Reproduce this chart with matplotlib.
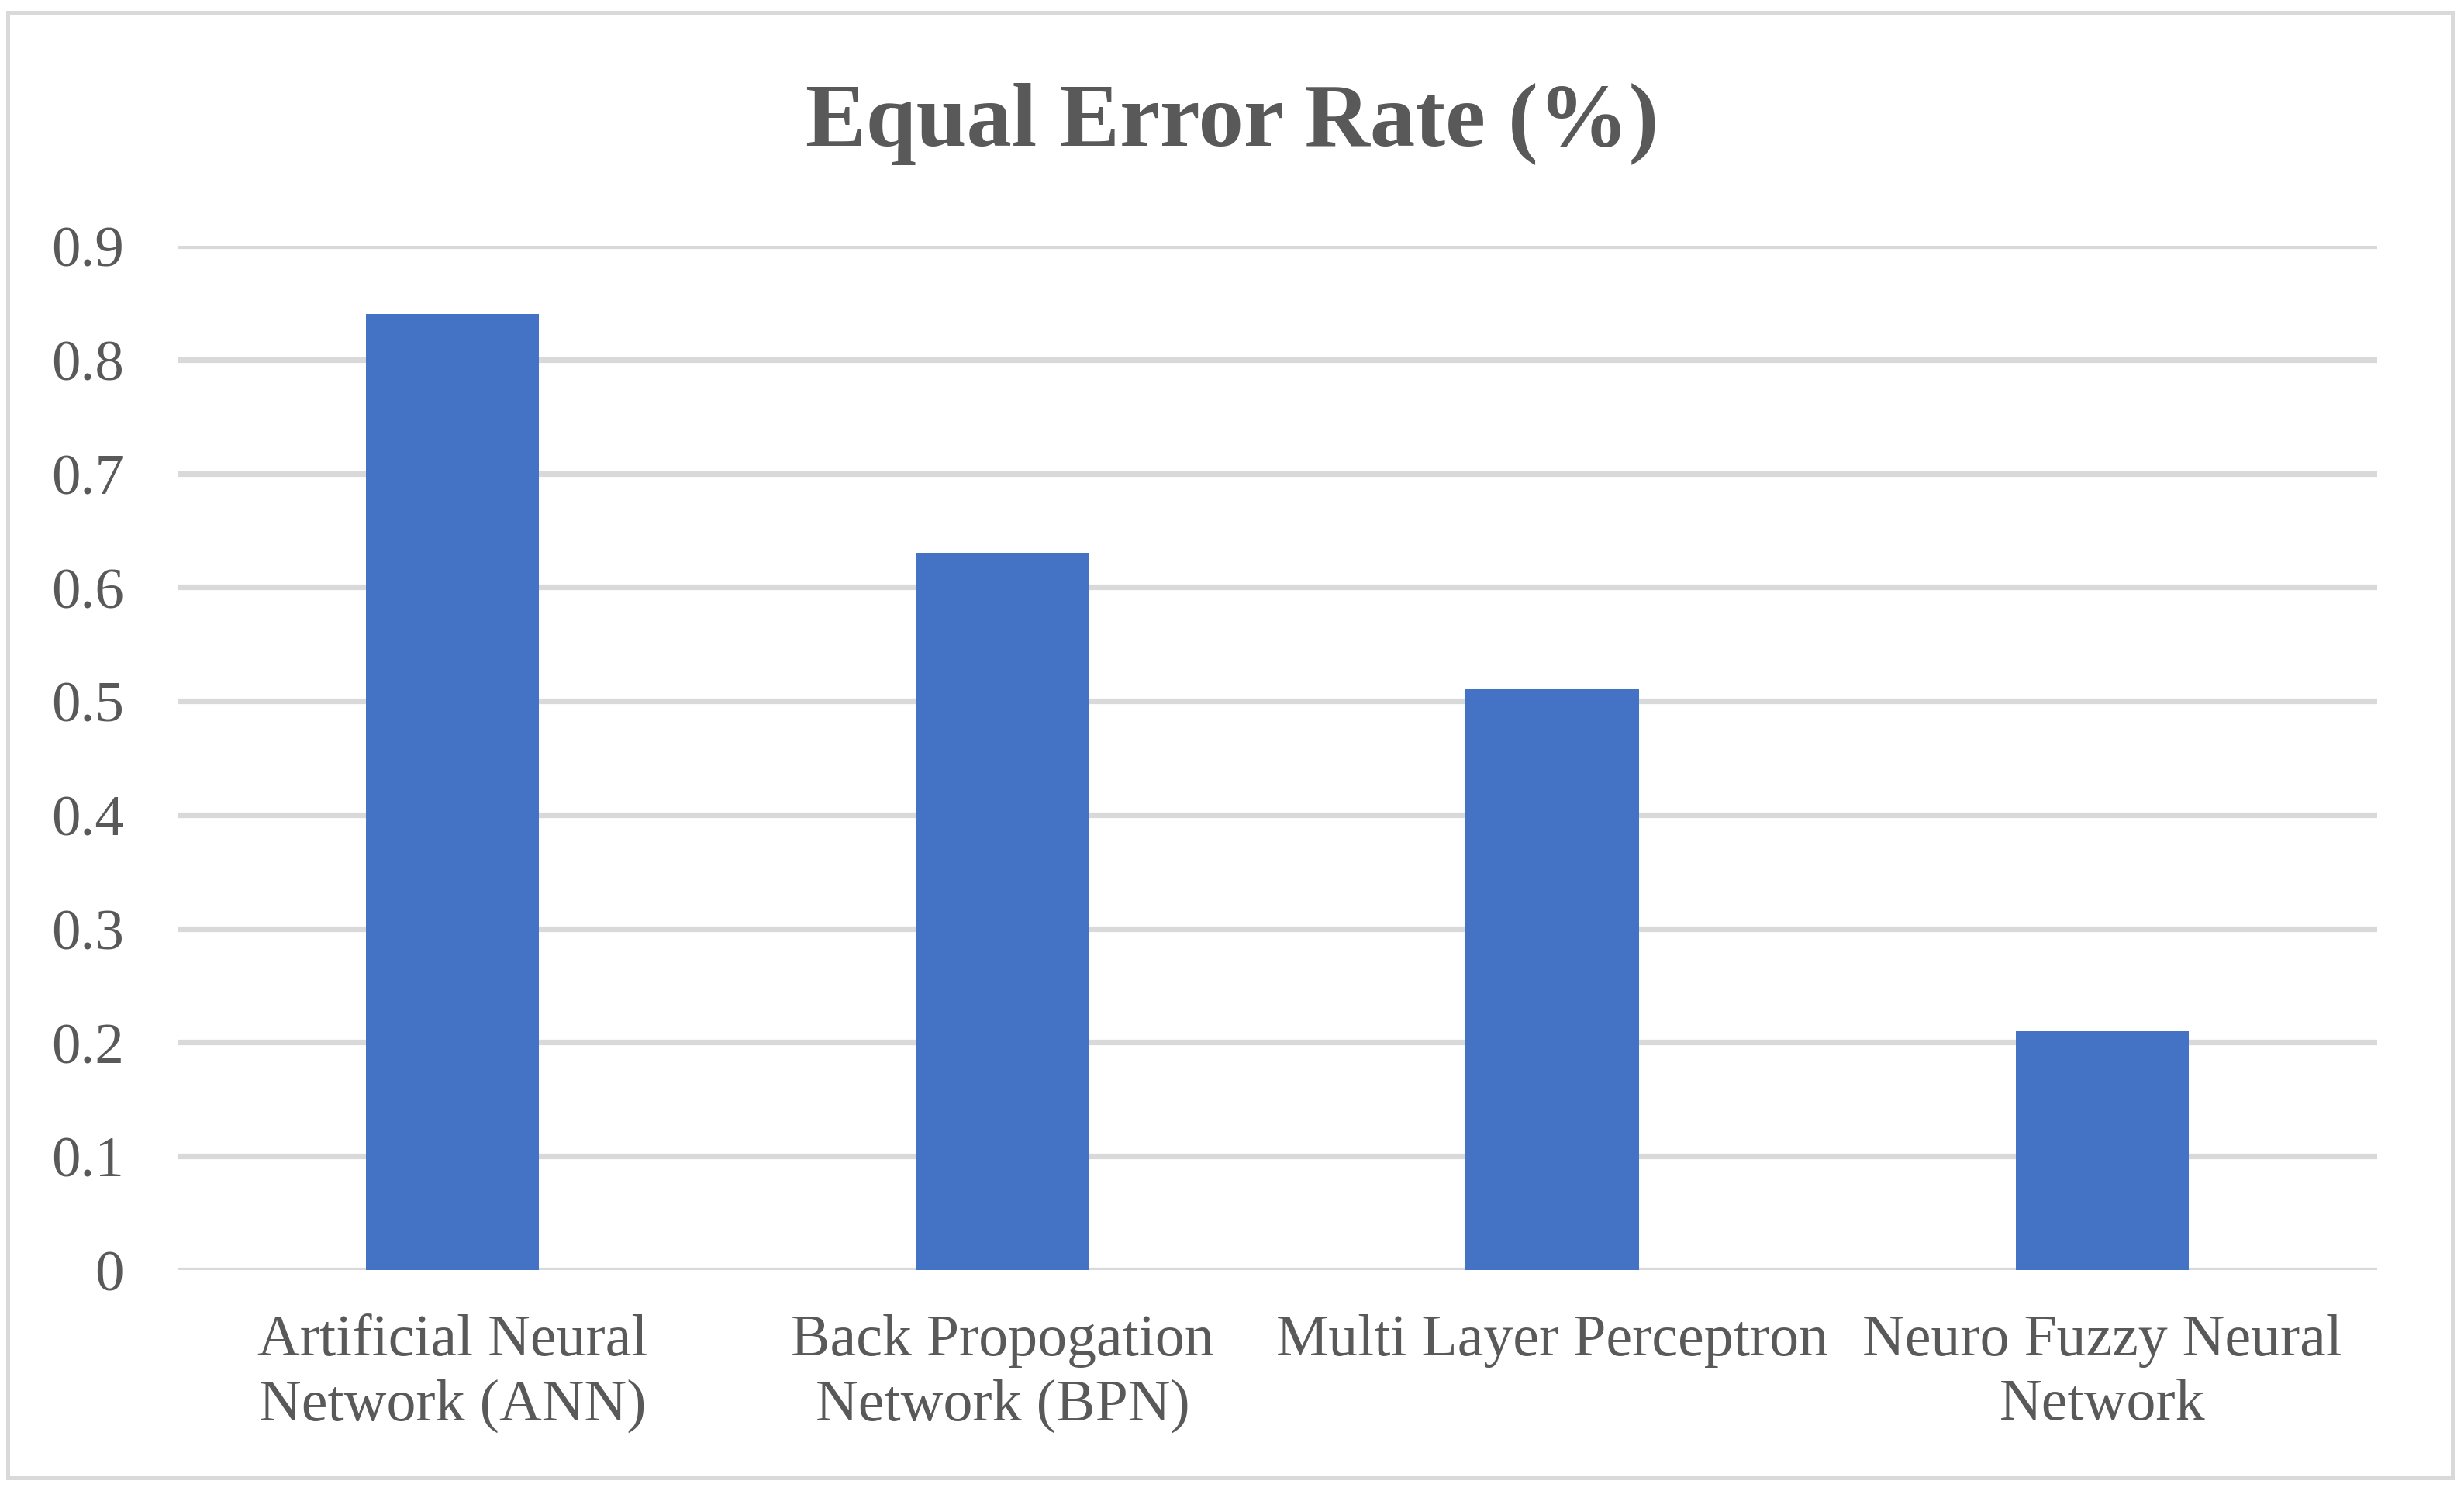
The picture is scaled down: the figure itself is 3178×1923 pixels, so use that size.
import matplotlib
matplotlib.use("Agg")
import matplotlib.pyplot as plt
from matplotlib.patches import Rectangle

categories = ["Artificial Neural\nNetwork (ANN)", "Back Propogation\nNetwork (BPN)",
              "Multi Layer Perceptron", "Neuro Fuzzy Neural\nNetwork"]
values = [0.84, 0.63, 0.51, 0.21]
yticks = [0, 0.1, 0.2, 0.3, 0.4, 0.5, 0.6, 0.7, 0.8, 0.9]
ytick_labels = ["0", "0.1", "0.2", "0.3", "0.4", "0.5", "0.6", "0.7", "0.8", "0.9"]
title = "Equal Error Rate (%)"

plt.rcParams['font.family'] = ['Liberation Serif', 'DejaVu Serif']
W, H, DPI = 3178, 1924, 200
fig = plt.figure(figsize=(W / DPI, H / DPI), dpi=DPI)
fig.patch.set_facecolor("white")

# outer border
fig.patches.append(Rectangle((10 / W, 17 / H), (3163 - 10) / W, (1907 - 17) / H,
                             transform=fig.transFigure, fill=False,
                             edgecolor="#D9D9D9", linewidth=1.8))

ax = fig.add_axes([229 / W, (H - 1639) / H, (3066 - 229) / W, (1639 - 318) / H])
x = list(range(len(categories)))
ax.bar(x, values, width=0.315, color="#4472C4", zorder=3)
ax.set_xlim(-0.5, len(categories) - 0.5)
ax.set_ylim(0, 0.9)
ax.set_yticks(yticks)
ax.set_yticklabels(ytick_labels)
ax.set_xticks(x)
ax.set_xticklabels(categories, linespacing=1.28)
ax.yaxis.grid(True, color="#D9D9D9", linewidth=2.6, zorder=0)
ax.set_axisbelow(True)
for s in ax.spines.values():
    s.set_visible(False)
ax.tick_params(axis='y', length=0, pad=25, labelsize=27, labelcolor="#595959")
ax.tick_params(axis='x', length=0, pad=20, labelsize=27.3, labelcolor="#595959")

fig.text(0.5, 1 - 160 / H, title, ha="center", va="center", fontsize=42,
         fontweight="bold", color="#595959")

fig.savefig("out.png", dpi=DPI, facecolor="white")
